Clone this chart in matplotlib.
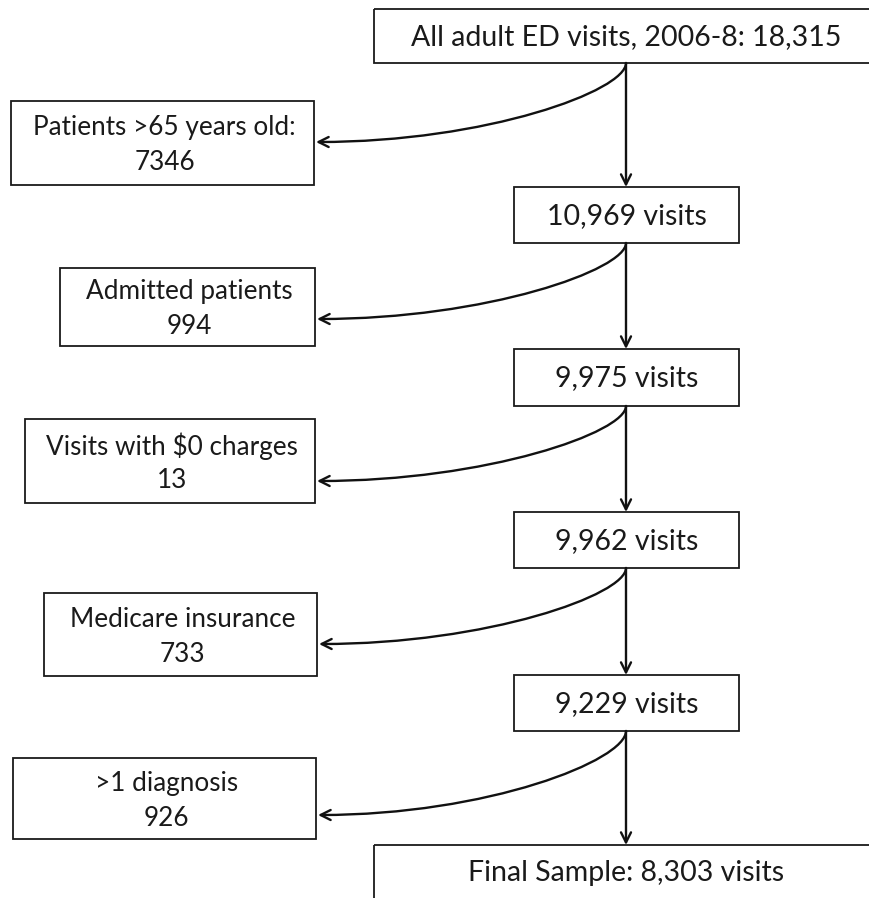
import matplotlib
matplotlib.use('Agg')
import numpy as np
from matplotlib import pyplot as plt
from matplotlib.patches import Rectangle, FancyArrowPatch
from matplotlib.path import Path

# Flow data
main_labels = ["All adult ED visits, 2006-8: 18,315",
               "10,969 visits",
               "9,975 visits",
               "9,962 visits",
               "9,229 visits",
               "Final Sample: 8,303 visits"]
excl_labels = ["Patients >65 years old:",
               "Admitted patients",
               "Visits with $0 charges",
               "Medicare insurance",
               ">1 diagnosis"]
excl_counts = ["7346", "994", "13", "733", "926"]

# Layout (pixel coordinates, y down)
main_boxes = [(374, 9, 520, 54),
              (514, 187, 225, 56),
              (514, 349, 225, 57),
              (514, 512, 225, 56),
              (514, 675, 225, 56),
              (374, 845, 520, 70)]
excl_boxes = [(11, 101, 303, 84),
              (60, 268, 255, 78),
              (25, 419, 290, 84),
              (44, 593, 273, 83),
              (13, 758, 303, 81)]
arrow_y = [142, 319, 481, 644, 815]
spine_x = 626
FS = 20.5
FS_SIDE = 18.8
FONT = ['Lato', 'DejaVu Sans']

fig = plt.figure(figsize=(8.7, 8.98), dpi=100)
ax = fig.add_axes([0, 0, 1, 1])
ax.set_xlim(0, 870)
ax.set_ylim(898, 0)
ax.axis('off')

for (x, y, w, h), label in zip(main_boxes, main_labels):
    ax.add_patch(Rectangle((x, y), w, h, fill=False, ec='#1a1a1a', lw=1.3,
                           clip_on=False))
    cy = y + 28 if h > 60 else y + h / 2 + 1
    tx = x + w / 2 if w < 300 else spine_x
    ax.text(tx, cy, label, ha='center', va='center', fontsize=FS,
            family=FONT, color='#1a1a1a')

for (x, y, w, h), label, count, ay in zip(excl_boxes, excl_labels,
                                          excl_counts, arrow_y):
    ax.add_patch(Rectangle((x, y), w, h, fill=False, ec='#1a1a1a', lw=1.3))
    cx = x + w / 2 + 2
    cy = y + h / 2 + 2
    ax.text(cx, cy - 17, label, ha='center', va='center', fontsize=FS_SIDE,
            family=FONT, color='#1a1a1a')
    ax.text(cx, cy + 18, count, ha='center', va='center', fontsize=FS_SIDE,
            family=FONT, color='#1a1a1a')

# vertical arrows down the spine
for (x0, y0, w0, h0), (x1, y1, w1, h1) in zip(main_boxes[:-1], main_boxes[1:]):
    ax.add_patch(FancyArrowPatch((spine_x, y0 + h0), (spine_x, y1),
                                 arrowstyle='->', mutation_scale=18,
                                 lw=1.7, color='#111111',
                                 shrinkA=0, shrinkB=0))

# curved exclusion arrows
for (x0, y0, w0, h0), (ex, ey, ew, eh), ay in zip(main_boxes[:-1],
                                                  excl_boxes, arrow_y):
    sy = y0 + h0
    tx = ex + ew + 2
    dx = spine_x - tx
    dy = ay - sy
    verts = [(spine_x, sy), (spine_x, sy + 0.35 * dy),
             (spine_x - 0.45 * dx, ay), (tx, ay)]
    path = Path(verts, [Path.MOVETO, Path.CURVE4, Path.CURVE4, Path.CURVE4])
    ax.add_patch(FancyArrowPatch(path=path, arrowstyle='->',
                                 mutation_scale=18, lw=1.7, color='#111111',
                                 shrinkA=0, shrinkB=0))

fig.savefig('out.png', dpi=100)
